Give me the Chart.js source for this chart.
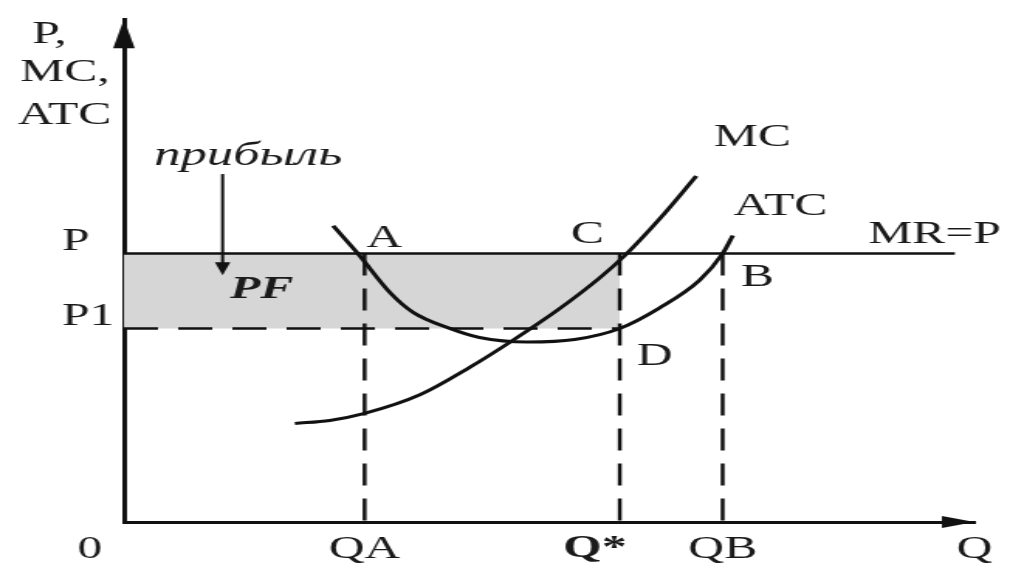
<!DOCTYPE html>
<html>
<head>
<meta charset="utf-8">
<script src="https://cdn.jsdelivr.net/npm/chart.js@4/dist/chart.umd.min.js"></script>
<style>
  html, body { margin: 0; padding: 0; background: #fff; overflow: hidden; }
  /* the diagram is drawn on a narrower canvas and widened to the page */
  #wrap { width: 652px; height: 573px; transform: scaleX(1.5491); transform-origin: 0 0; }
  canvas { display: block; }
</style>
</head>
<body>
<div id="wrap"><canvas id="c" width="652" height="573"></canvas></div>
<script>
// Quantity axis ticks
const qTicks = [2.83, 5.83, 7.04, 10];
const qTickLabels = ['QA', 'Q*', 'QB', 'Q'];

// Price axis ticks
const pTicks = [5.34, 3.85];
const pTickLabels = ['P', 'P1'];

// Key levels
const priceP = 5.34;
const priceP1 = 3.85;
const qA = 2.83;
const qStar = 5.83;
const qB = 7.04;
const qMR = 9.77;

// Average total cost curve
const atcQ    = [2.46, 2.75, 3.13, 3.40, 3.83, 4.18, 4.74, 5.30, 5.83, 6.30, 6.77, 7.04, 7.16];
const atcCost = [5.89, 5.34, 4.56, 4.17, 3.85, 3.67, 3.58, 3.63, 3.85, 4.26, 4.81, 5.34, 5.70];

// Marginal cost curve
const mcQ    = [2.01, 2.42, 2.83, 3.48, 4.07, 4.57, 5.12, 5.59, 5.89, 6.30, 6.73];
const mcCost = [1.96, 2.02, 2.16, 2.53, 3.08, 3.61, 4.24, 4.85, 5.30, 6.03, 6.88];

// Text annotations (anchored in axis units)
const notes = [
  { text: 'P,',   q: -1.08, p: 9.70, align: 'left' },
  { text: 'MC,',  q: -1.22, p: 8.94, align: 'left' },
  { text: 'ATC',  q: -1.25, p: 8.09, align: 'left' },
  { text: 'A',    q: 3.06,  p: 5.64 },
  { text: 'C',    q: 5.45,  p: 5.72 },
  { text: 'MC',   q: 7.39,  p: 7.64 },
  { text: 'ATC',  q: 7.72,  p: 6.27 },
  { text: 'MR=P', q: 9.53,  p: 5.72 },
  { text: 'B',    q: 7.45,  p: 4.87 },
  { text: 'D',    q: 6.24,  p: 3.28 },
  { text: 'прибыль', q: 1.46, p: 7.27, style: 'italic', size: 34 },
  { text: 'PF',   q: 1.62,  p: 4.62, style: 'italic', weight: 'bold' },
  { text: '0',    q: -0.40, p: -0.55 }
];

// Pointer from the caption to the shaded area
const profitArrow = { q: 1.16, from: 6.92, to: 4.91 };

const SERIF = "'Liberation Serif', 'DejaVu Serif', serif";
const INK = '#111';

const toPts = (xs, ys) => xs.map((x, i) => ({ x: x, y: ys[i] }));
const seg = (x1, y1, x2, y2) => [{ x: x1, y: y1 }, { x: x2, y: y2 }];

const DASH = [22, 13];

const extras = {
  id: 'diagramExtras',
  afterDraw(chart) {
    const ctx = chart.ctx;
    const xs = chart.scales.x, ys = chart.scales.y;
    const area = chart.chartArea;
    ctx.save();
    ctx.fillStyle = INK;
    ctx.strokeStyle = INK;

    // axis arrowheads
    const ox = xs.getPixelForValue(0), oy = ys.getPixelForValue(0);
    ctx.beginPath();
    ctx.moveTo(area.right, oy);
    ctx.lineTo(area.right - 21, oy - 6);
    ctx.lineTo(area.right - 21, oy + 6);
    ctx.closePath();
    ctx.fill();
    ctx.beginPath();
    ctx.moveTo(ox, area.top);
    ctx.lineTo(ox - 7, area.top + 29);
    ctx.lineTo(ox + 7, area.top + 29);
    ctx.closePath();
    ctx.fill();

    // profit pointer
    const ax = xs.getPixelForValue(profitArrow.q);
    const ay1 = ys.getPixelForValue(profitArrow.from);
    const ay2 = ys.getPixelForValue(profitArrow.to);
    ctx.lineWidth = 2;
    ctx.beginPath();
    ctx.moveTo(ax, ay1);
    ctx.lineTo(ax, ay2 - 10);
    ctx.stroke();
    ctx.beginPath();
    ctx.moveTo(ax, ay2);
    ctx.lineTo(ax - 5, ay2 - 13);
    ctx.lineTo(ax + 5, ay2 - 13);
    ctx.closePath();
    ctx.fill();

    // labels
    ctx.textBaseline = 'middle';
    notes.forEach(n => {
      ctx.font = `${n.style || 'normal'} ${n.weight || 'normal'} ${n.size || 32}px ${SERIF}`;
      ctx.textAlign = n.align || 'center';
      ctx.fillStyle = '#1a1a1a';
      ctx.fillText(n.text, xs.getPixelForValue(n.q), ys.getPixelForValue(n.p));
    });
    ctx.restore();
  }
};

new Chart(document.getElementById('c'), {
  type: 'line',
  data: {
    datasets: [
      { // profit area
        data: seg(0, priceP, qStar, priceP),
        fill: { value: priceP1 },
        backgroundColor: '#d6d6d6',
        borderWidth: 0,
        order: 10
      },
      { // MR = P
        data: seg(0, priceP, qMR, priceP),
        borderColor: INK, borderWidth: 2.5, fill: false, order: 5
      },
      { // P1 level
        data: seg(0, priceP1, qStar, priceP1),
        borderColor: INK, borderWidth: 2.5, borderDash: DASH, fill: false, order: 5
      },
      { data: seg(qA, priceP, qA, 0), borderColor: INK, borderWidth: 2.5, borderDash: DASH, fill: false, order: 5 },
      { data: seg(qStar, priceP, qStar, 0), borderColor: INK, borderWidth: 2.5, borderDash: DASH, fill: false, order: 5 },
      { data: seg(qB, priceP, qB, 0), borderColor: INK, borderWidth: 2.5, borderDash: DASH, fill: false, order: 5 },
      { // ATC
        data: toPts(atcQ, atcCost),
        borderColor: INK, borderWidth: 3, fill: false,
        cubicInterpolationMode: 'monotone', order: 1
      },
      { // MC
        data: toPts(mcQ, mcCost),
        borderColor: INK, borderWidth: 3, fill: false,
        cubicInterpolationMode: 'monotone', order: 1
      }
    ]
  },
  options: {
    responsive: false,
    animation: false,
    events: [],
    layout: { padding: { left: 40, right: 23, top: 13, bottom: 0 } },
    plugins: { legend: { display: false }, tooltip: { enabled: false } },
    elements: { point: { radius: 0 }, line: { borderCapStyle: 'butt' } },
    scales: {
      x: {
        type: 'linear', min: 0, max: 10, position: 'bottom',
        grid: { drawOnChartArea: false, drawTicks: false },
        border: { display: true, width: 3, color: INK },
        afterBuildTicks: s => { s.ticks = qTicks.map(v => ({ value: v })); },
        afterFit: s => { s.height = 51; },
        ticks: {
          autoSkip: false, maxRotation: 0, minRotation: 0, padding: 8,
          color: '#1a1a1a',
          font: c => ({ family: SERIF, size: 32, weight: c.index === 1 ? 'bold' : 'normal' }),
          callback: (v, i) => i === 1 ? qTickLabels[i] + '    ' : qTickLabels[i]
        }
      },
      y: {
        type: 'linear', min: 0, max: 10, position: 'left',
        grid: { drawOnChartArea: false, drawTicks: false },
        border: { display: true, width: 3, color: INK },
        afterBuildTicks: s => { s.ticks = pTicks.map(v => ({ value: v })); },
        afterFit: s => { s.width = 40; },
        ticks: {
          autoSkip: false, crossAlign: 'far', labelOffset: -12, padding: 0,
          color: '#1a1a1a',
          font: { family: SERIF, size: 32 },
          callback: (v, i) => pTickLabels[i]
        }
      }
    }
  },
  plugins: [extras]
});
</script>
</body>
</html>
